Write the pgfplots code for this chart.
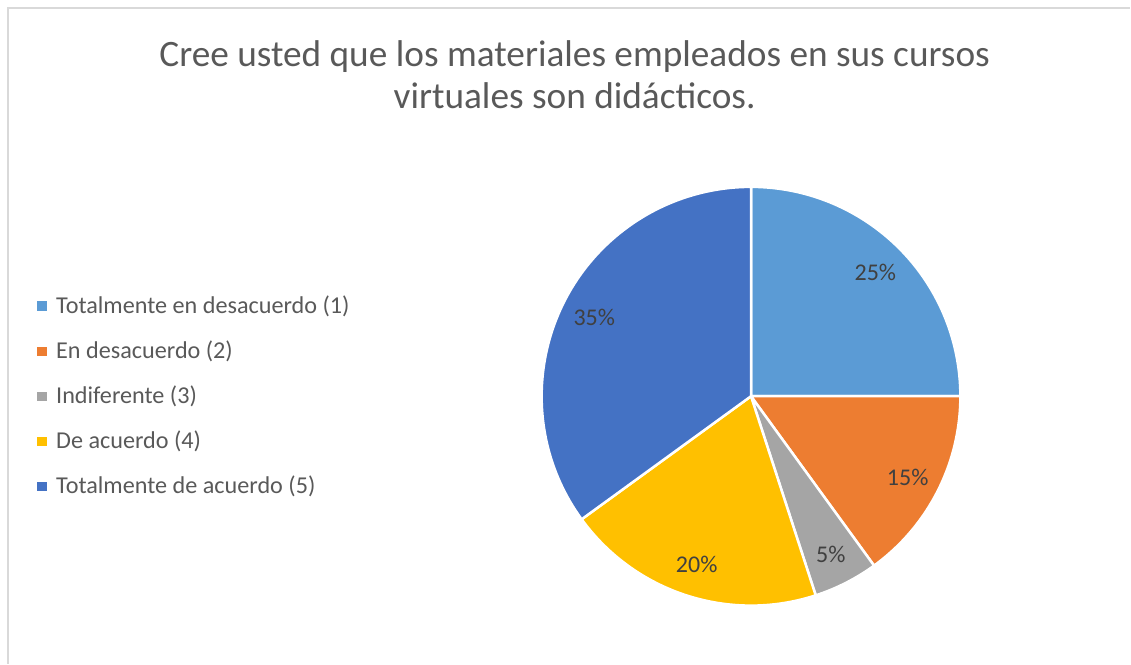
\documentclass[border=0pt]{standalone}
\usepackage{fontspec}
\setmainfont{Carlito}
\usepackage{pgfplots}
\usepackage{pgfplotstable}
\pgfplotsset{compat=1.18}
\definecolor{slice0}{HTML}{5B9BD5}
\definecolor{slice1}{HTML}{ED7D31}
\definecolor{slice2}{HTML}{A5A5A5}
\definecolor{slice3}{HTML}{FFC000}
\definecolor{slice4}{HTML}{4472C4}
\definecolor{titlegray}{HTML}{595959}
\definecolor{labelgray}{HTML}{404040}
\definecolor{bordergray}{HTML}{D9D9D9}
\pgfplotstableread{
value
25
15
5
20
35
}\piedata
\begin{document}
\begin{tikzpicture}
\begin{axis}[
  scale only axis, width=1131pt, height=664pt,
  xmin=0, xmax=1131, ymin=0, ymax=664,
  hide axis, clip=false,
]
\path (axis cs:0,0) rectangle (axis cs:1131,664);
\draw[bordergray, line width=1.5pt] (axis cs:8,0) -- (axis cs:8,656) -- (axis cs:1131,656);
\node[font=\fontsize{37.3}{44}\selectfont, text=titlegray, anchor=base] at (axis cs:575,597) {Cree usted que los materiales empleados en sus cursos};
\node[font=\fontsize{37.3}{44}\selectfont, text=titlegray, anchor=base] at (axis cs:575,555) {virtuales son didácticos.};
\def\cum{0}
\pgfplotsforeachungrouped \i in {0,...,4}{%
  \pgfplotstablegetelem{\i}{value}\of\piedata
  \let\v\pgfplotsretval
  \pgfmathsetmacro\a{90-3.6*\cum}%
  \pgfmathsetmacro\b{90-3.6*(\cum+\v)}%
  \pgfmathsetmacro\m{(\a+\b)/2}%
  \pgfmathsetmacro\lx{751.5+176*cos(\m)}%
  \pgfmathsetmacro\ly{266.5+176*sin(\m)}%
  \edef\temp{%
    \noexpand\fill[fill=slice\i, draw=white, line width=2.5pt, line join=round]
      (axis cs:751.5,267.5) -- ++(\a:209.5pt) arc[start angle=\a, end angle=\b, radius=209.5pt] -- cycle;
    \noexpand\node[text=labelgray, font=\noexpand\fontsize{24}{29}\noexpand\selectfont] at (axis cs:\lx,\ly) {\v\noexpand\%};
  }%
  \temp
  \pgfmathsetmacro\cum{\cum+\v}%
}
\def\legA{Totalmente en desacuerdo (1)}
\def\legB{En desacuerdo (2)}
\def\legC{Indiferente (3)}
\def\legD{De acuerdo (4)}
\def\legE{Totalmente de acuerdo (5)}
\pgfplotsforeachungrouped \i/\t in {0/\legA,1/\legB,2/\legC,3/\legD,4/\legE}{%
  \pgfmathsetmacro\sy{664-306.2-45.2*\i}%
  \pgfmathsetmacro\ty{664-313.3-45.2*\i}%
  \edef\temp{%
    \noexpand\fill[slice\i] (axis cs:37.5,\sy-4.6) rectangle (axis cs:46.7,\sy+4.6);
    \noexpand\node[text=titlegray, anchor=base west, inner sep=0pt, font=\noexpand\fontsize{24.2}{29}\noexpand\selectfont] at (axis cs:56,\ty) {\expandafter\noexpand\t};
  }%
  \temp
}
\end{axis}
\end{tikzpicture}
\end{document}
